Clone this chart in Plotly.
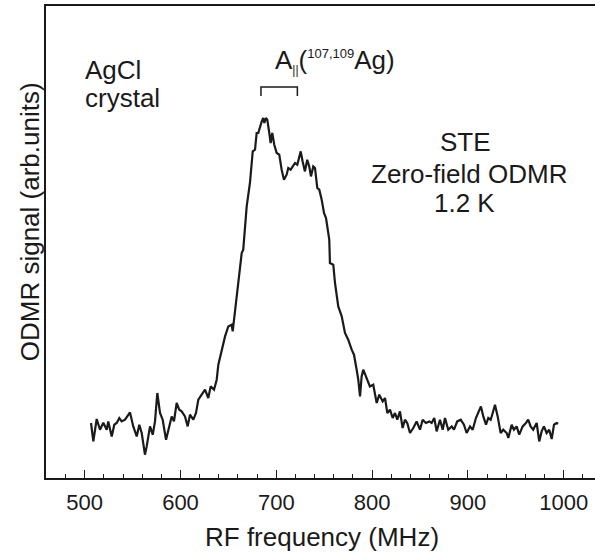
import plotly.graph_objects as go

freq_mhz = [
    506.6, 509.0, 512.5, 516.0, 519.4, 523.0, 524.6, 528.2, 530.9, 533.4,
    536.1, 538.6, 542.1, 547.3, 550.7, 554.3, 557.0, 559.5, 562.9, 564.7,
    568.2, 571.0, 573.4, 575.8, 578.6, 581.4, 584.9, 587.3, 590.8, 593.2,
    596.0, 598.7, 601.2, 604.7, 607.5, 609.9, 613.4, 616.2, 618.6, 622.1,
    625.6, 629.0, 631.5, 635.0, 637.8, 639.5, 643.0, 646.5, 649.9, 653.4,
    654.5, 656.9, 660.3, 663.9, 665.5, 669.1, 672.5, 675.4, 677.8, 679.5,
    681.2, 683.0, 684.8, 686.4, 687.5, 689.2, 690.6, 692.7, 694.1, 695.8,
    697.9, 700.4, 703.1, 705.6, 708.0, 710.8, 712.5, 715.0, 717.1, 719.5,
    721.9, 724.0, 725.5, 727.5, 729.9, 732.3, 734.4, 736.2, 738.6, 740.4,
    742.8, 744.9, 747.4, 749.8, 751.9, 755.3, 756.0, 759.5, 761.3, 764.7,
    768.3, 771.7, 775.1, 778.7, 781.1, 783.9, 785.6, 787.4, 789.1, 790.8,
    794.3, 797.7, 801.2, 804.8, 807.5, 811.1, 813.5, 815.9, 818.7, 821.5,
    823.9, 826.3, 829.1, 831.9, 834.3, 836.7, 839.6, 843.0, 846.5, 850.0,
    852.8, 856.2, 859.7, 862.2, 864.9, 867.4, 870.9, 873.7, 876.1, 879.5,
    883.1, 885.5, 888.9, 892.5, 895.9, 898.7, 902.2, 905.0, 908.4, 910.8,
    913.6, 916.1, 918.9, 921.3, 923.8, 925.9, 928.3, 931.1, 934.2, 936.9,
    940.5, 942.2, 945.7, 948.1, 950.9, 953.6, 957.2, 960.6, 963.0, 965.5,
    968.2, 971.8, 974.5, 977.0, 979.4, 982.2, 984.9, 987.5, 989.9, 992.7,
    994.3,
]

signal = [
    0.550, 0.366, 0.590, 0.483, 0.553, 0.483, 0.566, 0.416, 0.533, 0.550,
    0.600, 0.566, 0.583, 0.656, 0.516, 0.416, 0.533, 0.450, 0.233, 0.316,
    0.516, 0.433, 0.566, 0.850, 0.650, 0.583, 0.383, 0.483, 0.616, 0.566,
    0.750, 0.683, 0.666, 0.616, 0.516, 0.633, 0.583, 0.650, 0.783, 0.833,
    0.883, 0.800, 0.916, 0.883, 0.983, 1.133, 1.283, 1.416, 1.516, 1.533,
    1.466, 1.683, 1.950, 2.250, 2.283, 2.716, 2.950, 3.266, 3.283, 3.450,
    3.450, 3.516, 3.566, 3.600, 3.550, 3.600, 3.583, 3.450, 3.350, 3.450,
    3.333, 3.250, 3.233, 3.083, 2.983, 3.033, 3.100, 3.083, 3.116, 3.150,
    3.133, 3.200, 3.266, 3.166, 3.066, 3.183, 3.116, 3.016, 3.116, 3.100,
    2.900, 2.883, 2.783, 2.650, 2.600, 2.383, 2.150, 2.133, 1.950, 1.716,
    1.616, 1.450, 1.383, 1.283, 1.233, 1.083, 0.983, 0.816, 1.016, 1.083,
    1.000, 0.916, 0.933, 0.750, 0.833, 0.766, 0.800, 0.650, 0.683, 0.600,
    0.650, 0.583, 0.666, 0.500, 0.583, 0.550, 0.450, 0.500, 0.566, 0.483,
    0.583, 0.550, 0.566, 0.550, 0.600, 0.466, 0.583, 0.483, 0.600, 0.483,
    0.516, 0.483, 0.566, 0.583, 0.533, 0.450, 0.516, 0.483, 0.600, 0.650,
    0.716, 0.616, 0.533, 0.600, 0.583, 0.650, 0.733, 0.616, 0.450, 0.483,
    0.450, 0.400, 0.533, 0.483, 0.516, 0.433, 0.516, 0.550, 0.583, 0.516,
    0.483, 0.550, 0.366, 0.466, 0.516, 0.450, 0.483, 0.390, 0.533, 0.550,
    0.543,
]

tick_values = [500, 600, 700, 800, 900, 1000]
tick_labels = ["500", "600", "700", "800", "900", "1000"]
x_range = [459.6, 1032.7]
y_range = [0, 4.72]

bracket_freq = [684, 722]
bracket_top = 3.91
bracket_foot = 3.82

x_title = "RF frequency (MHz)"
y_title = "ODMR signal (arb.units)"
sample_lines = ["AgCl", "crystal"]
condition_lines = ["STE", "Zero-field ODMR", "1.2 K"]
split_label = ('A<sub><span style="font-size:12px">||</span></sub>'
               '(<sup><span style="font-size:13px">107,109</span></sup>Ag)')

FONT = "Liberation Sans, Arial, Helvetica, sans-serif"
INK = "#1a1a1a"
TXT = 26

fig = go.Figure()
fig.add_trace(go.Scatter(
    x=freq_mhz, y=signal, mode="lines",
    line=dict(color=INK, width=2.2),
    hoverinfo="skip", showlegend=False,
))

# bracket marking the A|| splitting
fig.add_trace(go.Scatter(
    x=[bracket_freq[0], bracket_freq[0], bracket_freq[1], bracket_freq[1]],
    y=[bracket_foot, bracket_top, bracket_top, bracket_foot],
    mode="lines", line=dict(color=INK, width=1.5),
    hoverinfo="skip", showlegend=False,
))

for txt, yy in zip(sample_lines, [4.08, 3.80]):
    fig.add_annotation(x=498, y=yy, xref="x", yref="y", xanchor="left", yanchor="middle",
                       text=txt, showarrow=False,
                       font=dict(family=FONT, size=TXT, color=INK))

fig.add_annotation(x=697, y=4.17, xref="x", yref="y", xanchor="left", yanchor="middle",
                   text=split_label, showarrow=False,
                   font=dict(family=FONT, size=TXT, color=INK))

for txt, xx, yy in zip(condition_lines, [897, 901, 896], [3.36, 3.04, 2.75]):
    fig.add_annotation(x=xx, y=yy, xref="x", yref="y", xanchor="center", yanchor="middle",
                       text=txt, showarrow=False,
                       font=dict(family=FONT, size=TXT, color=INK))

# axis titles
fig.add_annotation(x=0.503, y=-0.125, xref="paper", yref="paper", xanchor="center", yanchor="middle",
                   text=x_title, showarrow=False, font=dict(family=FONT, size=TXT, color=INK))
fig.add_annotation(x=-0.029, y=0.542, xref="paper", yref="paper", xanchor="center", yanchor="middle",
                   text=y_title, textangle=-90, showarrow=False,
                   font=dict(family=FONT, size=TXT, color=INK))

fig.update_layout(
    width=595, height=554,
    margin=dict(l=46, r=0, t=6, b=76),
    paper_bgcolor="white", plot_bgcolor="white",
    font=dict(family=FONT, color=INK),
    xaxis=dict(
        range=x_range, tickvals=tick_values, ticktext=tick_labels,
        ticks="inside", ticklen=8, tickwidth=1.2, tickcolor=INK,
        minor=dict(dtick=20, ticks="inside", ticklen=4, tickwidth=1.2, tickcolor=INK),
        showline=True, linecolor=INK, linewidth=1.5, mirror=True,
        showgrid=False, zeroline=False,
        tickfont=dict(family=FONT, size=22, color=INK),
        ticklabelstandoff=4,
    ),
    yaxis=dict(
        range=y_range, showticklabels=False, ticks="",
        showline=True, linecolor=INK, linewidth=1.5, mirror=False,
        showgrid=False, zeroline=False,
    ),
)

fig.write_html("out.html")
